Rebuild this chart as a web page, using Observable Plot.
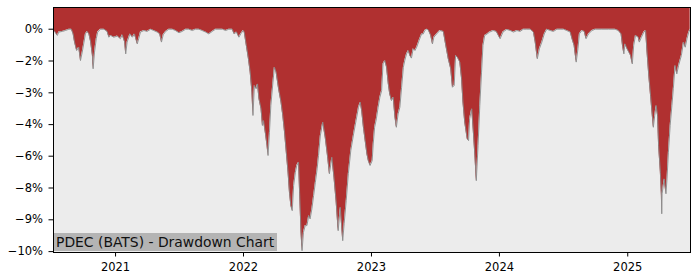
<!DOCTYPE html>
<html>
<head>
<meta charset="utf-8">
<script src="https://cdn.jsdelivr.net/npm/d3@7"></script>
<script src="https://cdn.jsdelivr.net/npm/@observablehq/plot@0.6"></script>
<style>
  html, body { margin: 0; padding: 0; background: #ffffff; }
  #wrap { position: relative; width: 700px; height: 280px; }
  #title {
    position: absolute; left: 54px; top: 233px; height: 18px; line-height: 18px;
    padding: 0 3px 0 2px; background: #b4b4b4; color: #111;
    font-family: "DejaVu Sans", sans-serif; font-size: 13.9px; white-space: nowrap;
  }
</style>
</head>
<body>
<div id="wrap"><div id="chart"></div><div id="title">PDEC (BATS) - Drawdown Chart</div></div>
<script>
const dates = [
"2020-07-08","2020-07-11","2020-07-19","2020-07-23","2020-08-02","2020-08-11","2020-08-21","2020-08-28",
"2020-09-02","2020-09-06","2020-09-12","2020-09-18","2020-09-23","2020-09-28","2020-10-03","2020-10-07",
"2020-10-12","2020-10-17","2020-10-22","2020-10-27","2020-10-29","2020-11-02","2020-11-07","2020-11-11",
"2020-11-19","2020-11-29","2020-12-08","2020-12-13","2020-12-18","2020-12-27",
"2021-01-06","2021-01-15","2021-01-20","2021-01-27","2021-01-30","2021-02-03","2021-02-11","2021-02-18",
"2021-02-24","2021-03-04","2021-03-08","2021-03-13","2021-03-23","2021-04-01","2021-04-11","2021-04-20",
"2021-04-30","2021-05-07","2021-05-12","2021-05-17","2021-05-24","2021-06-02","2021-06-12","2021-06-21",
"2021-07-01","2021-07-10","2021-07-20","2021-07-29","2021-08-08","2021-08-17","2021-08-27","2021-09-05",
"2021-09-15","2021-09-24","2021-10-04","2021-10-13","2021-10-23","2021-11-02","2021-11-11","2021-11-20",
"2021-11-30","2021-12-05","2021-12-12","2021-12-19","2021-12-24","2021-12-31",
"2022-01-03","2022-01-09","2022-01-15","2022-01-20","2022-01-25","2022-01-28","2022-02-01","2022-02-06",
"2022-02-10","2022-02-14","2022-02-20","2022-02-24","2022-02-27","2022-03-04","2022-03-09","2022-03-12",
"2022-03-16","2022-03-20","2022-03-26","2022-03-30","2022-04-04","2022-04-11","2022-04-18","2022-04-23",
"2022-04-28","2022-05-03","2022-05-08","2022-05-12","2022-05-16","2022-05-20","2022-05-24","2022-05-29",
"2022-06-02","2022-06-07","2022-06-10","2022-06-14","2022-06-17","2022-06-21","2022-06-26","2022-07-01",
"2022-07-06","2022-07-10","2022-07-15","2022-07-20","2022-07-25","2022-07-30","2022-08-03","2022-08-08",
"2022-08-15","2022-08-22","2022-08-29","2022-09-03","2022-09-10","2022-09-16","2022-09-22","2022-09-28",
"2022-10-04","2022-10-11","2022-10-15","2022-10-21","2022-10-27","2022-11-03","2022-11-11","2022-11-18",
"2022-11-25","2022-11-30","2022-12-04","2022-12-09","2022-12-14","2022-12-19","2022-12-23","2022-12-28",
"2023-01-03","2023-01-06","2023-01-10","2023-01-15","2023-01-20","2023-01-25","2023-01-30","2023-02-03",
"2023-02-08","2023-02-13","2023-02-18","2023-02-22","2023-02-27","2023-03-04","2023-03-09","2023-03-13",
"2023-03-18","2023-03-23","2023-03-28","2023-04-02","2023-04-06","2023-04-11","2023-04-16","2023-04-21",
"2023-04-25","2023-04-30","2023-05-05","2023-05-10","2023-05-17","2023-05-24","2023-05-29","2023-06-02",
"2023-06-07","2023-06-12","2023-06-19","2023-06-24","2023-06-28","2023-07-06","2023-07-15","2023-07-25",
"2023-08-01","2023-08-08","2023-08-15","2023-08-20","2023-08-25","2023-08-29","2023-09-03","2023-09-10",
"2023-09-15","2023-09-19","2023-09-24","2023-10-01","2023-10-05","2023-10-08","2023-10-14","2023-10-18",
"2023-10-23","2023-10-27","2023-11-01","2023-11-06","2023-11-11","2023-11-15","2023-11-20","2023-11-27",
"2023-12-04","2023-12-14","2023-12-23",
"2024-01-03","2024-01-11","2024-01-17","2024-01-22","2024-02-01","2024-02-10","2024-02-20","2024-02-29",
"2024-03-09","2024-03-19","2024-03-29","2024-04-07","2024-04-12","2024-04-18","2024-04-24","2024-05-01",
"2024-05-08","2024-05-15","2024-05-25","2024-06-03","2024-06-13","2024-06-22","2024-07-02","2024-07-11",
"2024-07-21","2024-07-26","2024-08-01","2024-08-07","2024-08-12","2024-08-16","2024-08-23","2024-08-30",
"2024-09-04","2024-09-11","2024-09-21","2024-09-30","2024-10-19","2024-11-07","2024-11-26","2024-12-05",
"2024-12-13","2024-12-17","2024-12-21","2024-12-24","2024-12-30",
"2025-01-04","2025-01-09","2025-01-14","2025-01-18","2025-01-23","2025-01-31","2025-02-03","2025-02-09",
"2025-02-16","2025-02-21","2025-02-25","2025-03-02","2025-03-07","2025-03-12","2025-03-15","2025-03-19",
"2025-03-23","2025-03-27","2025-03-30","2025-04-04","2025-04-07","2025-04-08","2025-04-09","2025-04-15",
"2025-04-20","2025-04-23","2025-04-27","2025-05-02","2025-05-07","2025-05-11","2025-05-16","2025-05-21",
"2025-05-26","2025-06-03","2025-06-09","2025-06-14","2025-06-19","2025-06-24","2025-06-28"
];
const drawdown = [
-0.05,-0.10,-0.28,-0.13,-0.10,-0.06,0,0,
-0.21,-0.58,-0.96,-0.81,-1.41,-1.03,-0.58,-0.21,
-0.10,-0.21,-0.58,-1.18,-1.78,-1.03,-0.43,-0.13,
0,0,-0.10,-0.36,-0.28,-0.36,
-0.31,-0.43,-0.25,-0.58,-1.11,-0.58,-0.21,-0.36,
-0.21,-0.66,-0.43,-0.13,-0.06,-0.10,0,-0.06,
-0.13,-0.21,-0.58,-0.25,-0.10,0,0,-0.06,
-0.16,-0.10,0,0,-0.06,0,0,-0.06,
-0.13,-0.21,-0.10,0,0,0,-0.06,0,
0,-0.21,-0.13,-0.36,-0.21,-0.06,
-0.13,-0.73,-1.33,-1.93,-2.83,-3.88,-2.53,-2.68,
-2.46,-3.13,-3.58,-4.33,-4.11,-4.63,-5.23,-5.68,
-4.63,-3.43,-2.38,-1.71,-1.93,-2.68,-3.28,-3.88,
-4.63,-5.53,-6.43,-7.33,-7.93,-8.16,-7.03,-6.43,
-6.13,-5.98,-7.33,-9.13,-9.96,-9.13,-8.83,-8.83,
-8.38,-8.53,-8.08,-7.48,-6.88,-6.28,-5.68,-4.80,
-4.18,-4.86,-5.76,-6.50,-5.76,-6.66,-7.71,-9.06,
-8.01,-9.51,-8.75,-7.71,-6.50,-5.46,-4.71,-4.11,
-3.51,-3.28,-3.66,-4.41,-5.01,-5.61,-5.91,-6.13,
-5.91,-5.16,-4.41,-4.03,-3.51,-3.06,-2.76,-1.56,
-1.41,-1.71,-2.46,-2.91,-3.21,-3.06,-3.96,-4.41,
-3.81,-3.51,-2.61,-1.71,-1.41,-1.11,-0.96,-1.20,
-1.30,-0.88,-0.96,-0.81,-0.50,-0.21,-0.21,-0.06,
0,-0.03,-0.28,-0.66,-0.36,-0.21,-0.06,-0.10,
-0.73,-1.33,-1.78,-2.61,-2.53,-1.18,-1.26,-1.48,
-2.23,-3.28,-4.18,-4.93,-5.01,-4.03,-3.58,-4.48,
-5.68,-6.81,-5.23,-3.43,-1.93,-0.73,-0.28,-0.21,
-0.13,-0.06,-0.10,
-0.43,-0.13,-0.06,-0.01,-0.06,-0.13,-0.06,-0.10,
0,0,0,-0.13,-0.58,-1.33,-0.88,-0.58,
-0.21,0,-0.06,-0.10,0,0,0,-0.06,
-0.13,-0.43,-0.73,-1.48,-0.88,-0.21,-0.06,-0.10,
-0.43,-0.21,-0.06,0,0,0,0,-0.06,
-0.21,-0.73,-1.11,-0.66,-0.88,
-1.03,-1.18,-1.56,-0.73,-0.28,-0.36,-0.58,-0.36,
-0.13,-0.06,-1.03,-2.08,-2.98,-3.88,-4.41,-3.88,
-3.43,-3.88,-5.23,-6.43,-7.48,-8.30,-7.40,-6.73,
-7.40,-6.73,-5.53,-4.33,-3.43,-2.68,-1.63,-2.01,
-1.63,-1.18,-0.58,-0.81,-0.43,-0.13,0
];
const yTicks = [0, -1.43, -2.86, -4.29, -5.71, -7.14, -8.57, -10];
const yTickLabels = ["0%", "\u22122%", "\u22123%", "\u22124%", "\u22126%", "\u22128%", "\u22129%", "\u221210%"];
const xTicks = ["2021-01-01", "2022-01-01", "2023-01-01", "2024-01-01", "2025-01-01"];
const xDomain = ["2020-07-08", "2025-06-29"];
const yDomain = [-10.04, 0.976];

const data = dates.map((d, i) => ({date: new Date(d), dd: drawdown[i]}));

const axisFont = {fontSize: 11.5, fontFamily: "DejaVu Sans"};

const chart = Plot.plot({
  width: 700,
  height: 280,
  marginLeft: 53,
  marginRight: 10,
  marginTop: 7,
  marginBottom: 28,
  style: {fontFamily: "DejaVu Sans, sans-serif", fontSize: "11.5px", color: "#000", background: "#fff"},
  x: {type: "utc", domain: xDomain.map(d => new Date(d))},
  y: {domain: yDomain},
  marks: [
    Plot.frame({fill: "#ececec"}),
    Plot.areaY(data, {x: "date", y1: () => yDomain[1], y2: "dd", fill: "#b03030"}),
    Plot.lineY(data, {x: "date", y: "dd", stroke: "#8a8a8a", strokeWidth: 0.9}),
    Plot.axisY({ticks: yTicks, tickFormat: (d, i) => yTickLabels[i], tickSize: 4.5, tickPadding: 6, label: null, ...axisFont}),
    Plot.axisX({ticks: xTicks.map(d => new Date(d)), tickFormat: d3.utcFormat("%Y"), tickSize: 4.5, tickPadding: 5.5, label: null, ...axisFont}),
    Plot.frame({stroke: "#000", strokeWidth: 1})
  ]
});
document.getElementById("chart").appendChild(chart);
</script>
</body>
</html>
